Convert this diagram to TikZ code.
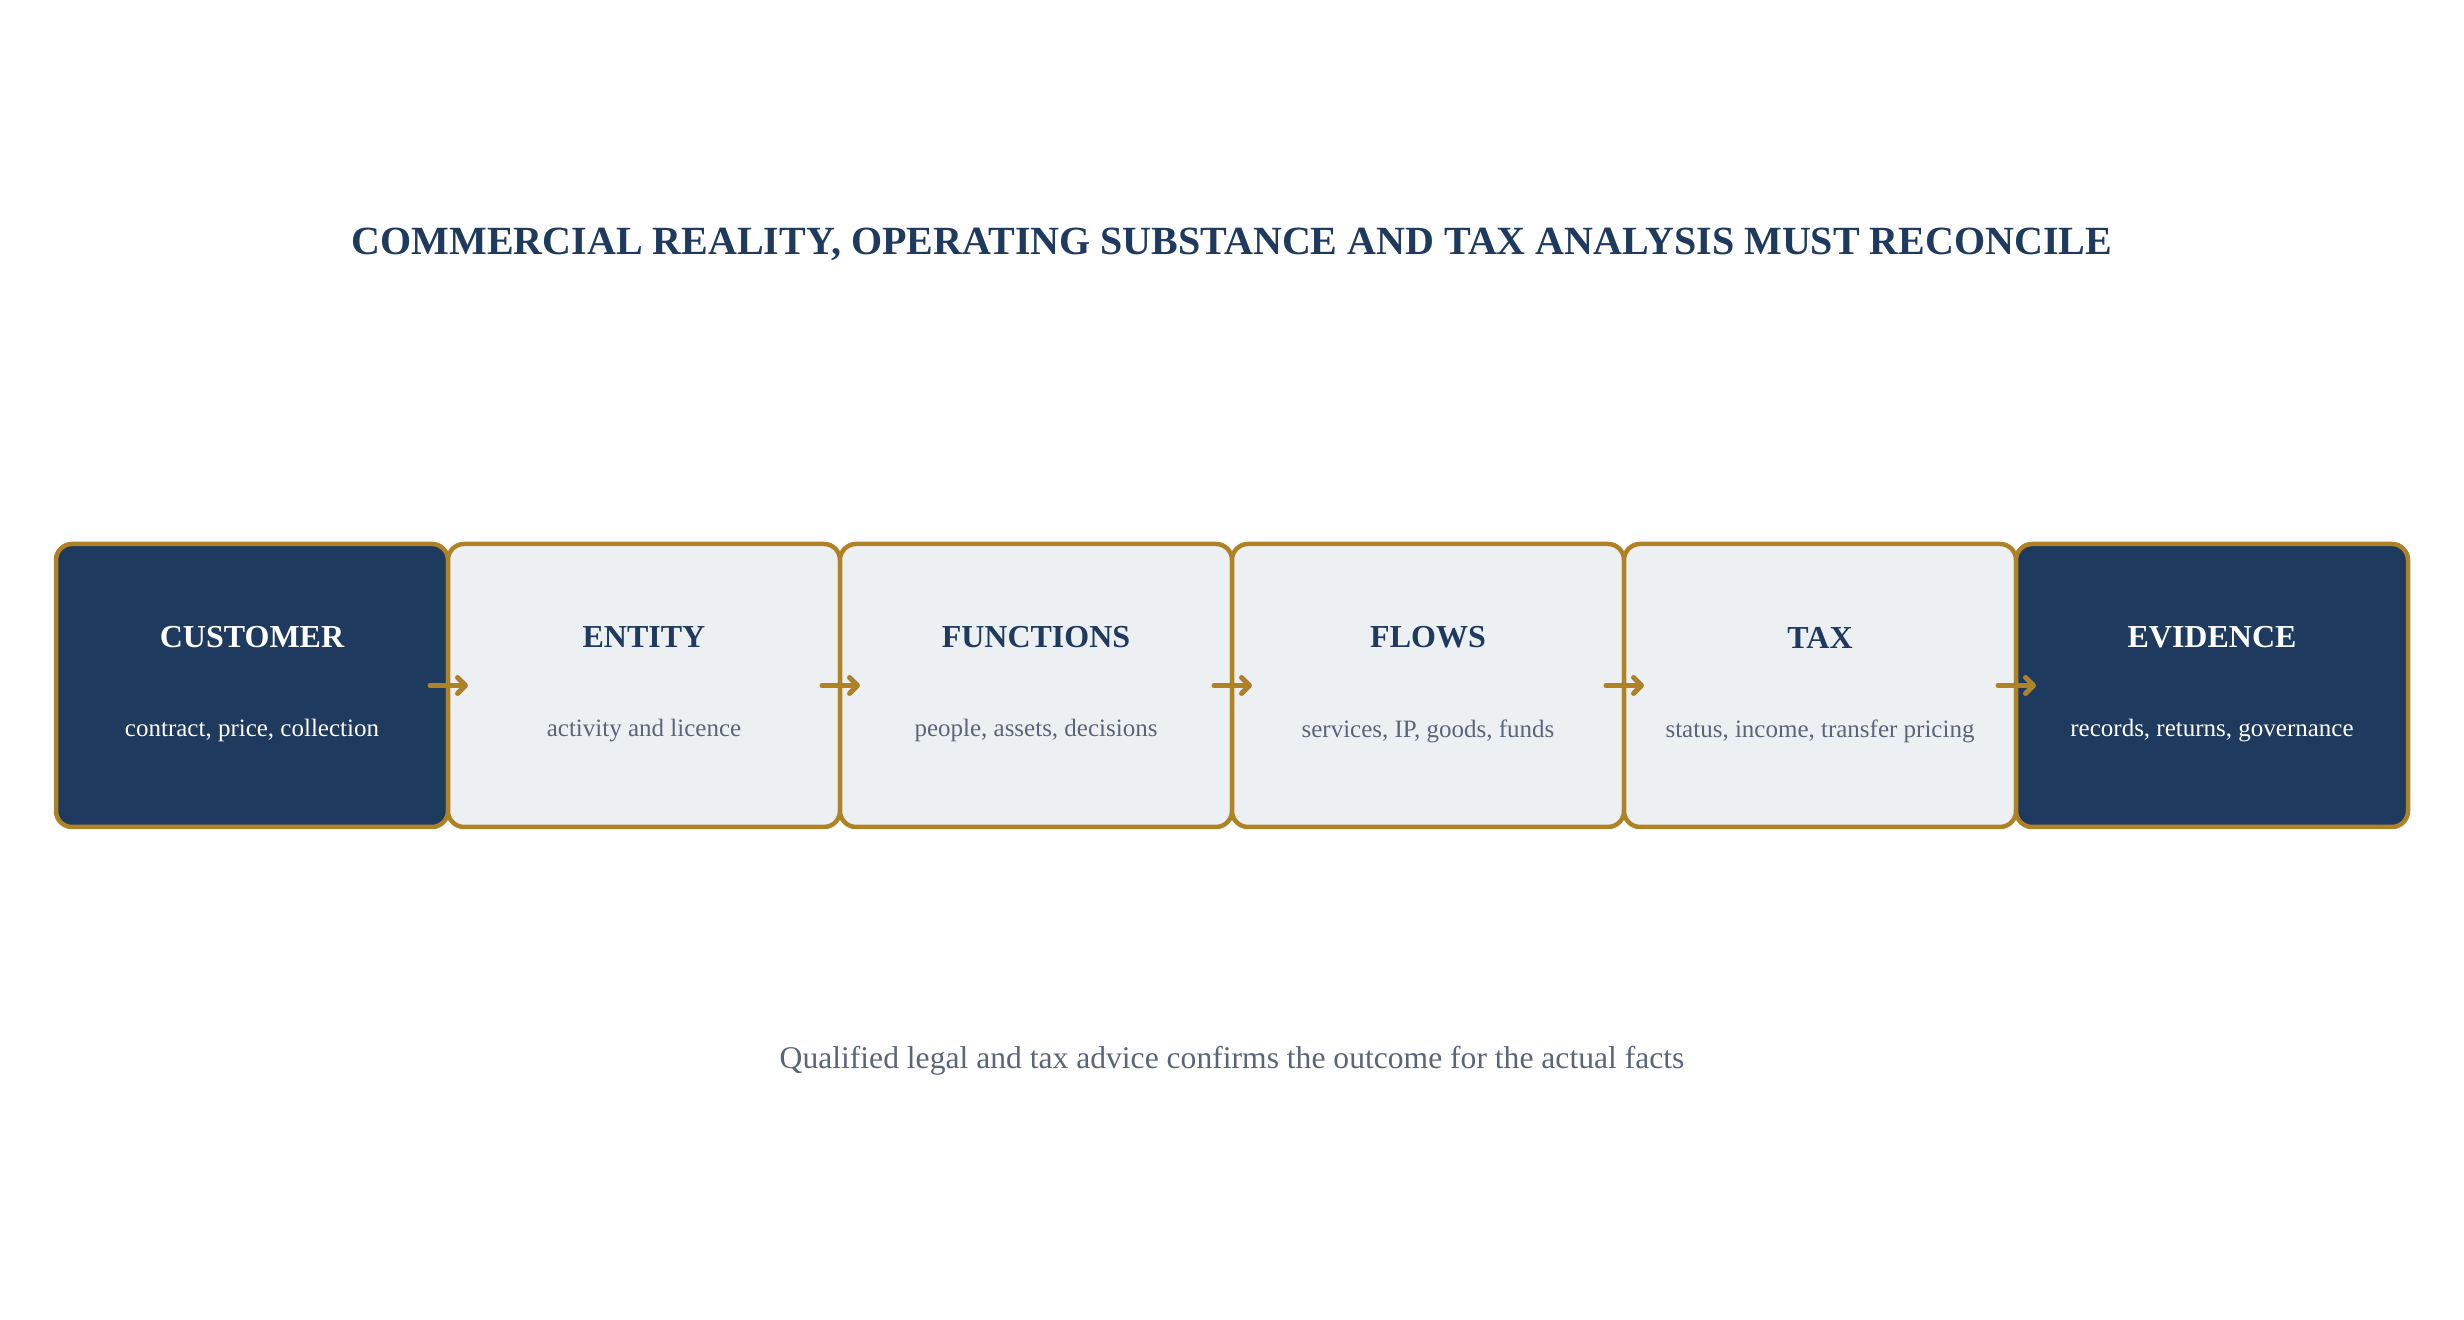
\documentclass[tikz,border=0pt]{standalone}
\usepackage{fontspec}
\setmainfont{Liberation Serif}
\usetikzlibrary{positioning,arrows.meta}
\definecolor{navy}{HTML}{1F3A5F}
\definecolor{gold}{HTML}{B08226}
\definecolor{pale}{HTML}{EDF0F3}
\definecolor{slate}{HTML}{5B6578}

\tikzset{
  stage/.style={draw=gold, fill=pale, line width=2.25pt, rounded corners=8pt,
    minimum width=196pt, minimum height=141.5pt, inner sep=0pt, outer sep=0pt},
  keystage/.style={stage, fill=navy},
  stagehead/.style={font=\fontsize{16}{19}\selectfont\bfseries, text=navy},
  keyhead/.style={stagehead, text=white},
  stagetext/.style={font=\fontsize{12.5}{15}\selectfont, text=slate},
  keytext/.style={stagetext, text=white},
  flow/.style={draw=gold, line width=2.5pt, line cap=round,
    -{Straight Barb[round, length=4pt, width=8pt]}},
}

\begin{document}
\begin{tikzpicture}[x=1pt, y=1pt]

  \useasboundingbox (0,0) rectangle (1232,660);

  % Title
  \node[font=\fontsize{20}{24}\selectfont\bfseries, text=navy] (title) at (616,538)
    {COMMERCIAL REALITY, OPERATING SUBSTANCE AND TAX ANALYSIS MUST RECONCILE};

  % Define nodes
  \node[keystage] (customer) at (126,317.25) {};
  \node[stage, right=0pt of customer] (entity) {};
  \node[stage, right=0pt of entity] (functions) {};
  \node[stage, right=0pt of functions] (flows) {};
  \node[stage, right=0pt of flows] (tax) {};
  \node[keystage, right=0pt of tax] (evidence) {};

  % Stage texts
  \node[keyhead] (customer-h) at ([yshift=24pt]customer.center) {CUSTOMER};
  \node[keytext] (customer-t) at ([yshift=-22.75pt]customer.center) {contract, price, collection};
  \node[stagehead] (entity-h) at ([yshift=24pt]entity.center) {ENTITY};
  \node[stagetext] (entity-t) at ([yshift=-22.75pt]entity.center) {activity and licence};
  \node[stagehead] (functions-h) at ([yshift=24pt]functions.center) {FUNCTIONS};
  \node[stagetext] (functions-t) at ([yshift=-22.75pt]functions.center) {people, assets, decisions};
  \node[stagehead] (flows-h) at ([yshift=24pt]flows.center) {FLOWS};
  \node[stagetext] (flows-t) at ([yshift=-22.75pt]flows.center) {services, IP, goods, funds};
  \node[stagehead] (tax-h) at ([yshift=24pt]tax.center) {TAX};
  \node[stagetext] (tax-t) at ([yshift=-22.75pt]tax.center) {status, income, transfer pricing};
  \node[keyhead] (evidence-h) at ([yshift=24pt]evidence.center) {EVIDENCE};
  \node[keytext] (evidence-t) at ([yshift=-22.75pt]evidence.center) {records, returns, governance};

  % Connect the nodes
  \draw[flow] ([xshift=-9pt]customer.east) -- ([xshift=10pt]entity.west);
  \draw[flow] ([xshift=-9pt]entity.east) -- ([xshift=10pt]functions.west);
  \draw[flow] ([xshift=-9pt]functions.east) -- ([xshift=10pt]flows.west);
  \draw[flow] ([xshift=-9pt]flows.east) -- ([xshift=10pt]tax.west);
  \draw[flow] ([xshift=-9pt]tax.east) -- ([xshift=10pt]evidence.west);

  % Footnote
  \node[font=\fontsize{15.8}{19}\selectfont, text=slate] (advice) at (616,129.5)
    {Qualified legal and tax advice confirms the outcome for the actual facts};

\end{tikzpicture}
\end{document}
